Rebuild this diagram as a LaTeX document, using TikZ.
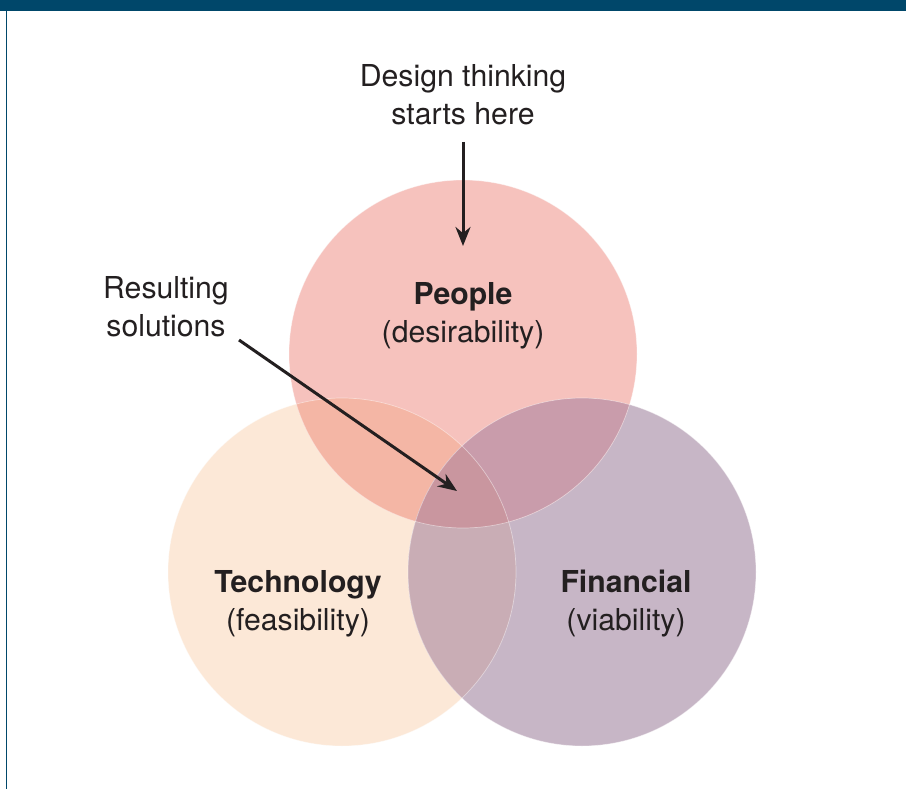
\documentclass[tikz,border=0pt]{standalone}
\usepackage{fontspec}
\setmainfont{TeX Gyre Heros}
\usetikzlibrary{arrows.meta}
\definecolor{barblue}{HTML}{00476A}
\definecolor{inkdark}{HTML}{231F20}
\definecolor{peoplec}{HTML}{F6C2BD}
\definecolor{techc}{HTML}{FCE8D7}
\definecolor{finc}{HTML}{C7B6C6}
\definecolor{ptc}{HTML}{F4B6A5}
\definecolor{pfc}{HTML}{C99CAB}
\definecolor{tfc}{HTML}{C9ADB5}
\definecolor{ptfc}{HTML}{C9969F}
\tikzset{
  lbl/.style={font=\fontsize{30.2}{38}\selectfont, text=inkdark, align=center, inner sep=0pt},
  pointer/.style={draw=inkdark, line width=3pt, -{Stealth[length=19pt,width=15pt]}},
  edge/.style={draw=white, draw opacity=0.45, line width=0.7pt}
}
\begin{document}
\begin{tikzpicture}[x=1pt, y=-1pt]
  \useasboundingbox (0,0) rectangle (906,789);
  \fill[white] (0,0) rectangle (906,789);
  % header bar and left rule
  \fill[barblue] (0,0) rectangle (906,11);
  \fill[barblue] (5.5,11) rectangle (7.2,789);

  % circle centres
  \coordinate (cp) at (463,354);
  \coordinate (ct) at (342,572);
  \coordinate (cf) at (582,572);
  \def\rad{174}

  % single regions
  \fill[techc] (ct) circle (\rad);
  \fill[finc] (cf) circle (\rad);
  \fill[peoplec] (cp) circle (\rad);
  % pairwise overlaps
  \begin{scope}
    \clip (cp) circle (\rad);
    \fill[ptc] (ct) circle (\rad);
    \fill[pfc] (cf) circle (\rad);
  \end{scope}
  \begin{scope}
    \clip (ct) circle (\rad);
    \fill[tfc] (cf) circle (\rad);
  \end{scope}
  % triple overlap
  \begin{scope}
    \clip (cp) circle (\rad);
    \clip (ct) circle (\rad);
    \fill[ptfc] (cf) circle (\rad);
  \end{scope}
  % faint light edges inside the overlaps
  \draw[edge] (cp) circle (\rad);
  \draw[edge] (ct) circle (\rad);
  \draw[edge] (cf) circle (\rad);

  % labels
  \node[lbl] (start) at (463,95) {Design thinking\\starts here};
  \node[lbl] (result) at (166,307) {Resulting\\solutions};
  \node[lbl] (people) at (463,316) {\textbf{People}\\(desirability)};
  \node[lbl] (tech) at (298,604) {\textbf{Technology}\\(feasibility)};
  \node[lbl] (fin) at (626,604) {\textbf{Financial}\\(viability)};

  % pointers
  \coordinate (starttip) at (463,246);
  \coordinate (resulttip) at (457,491);
  \draw[pointer] (start.south |- 0,142) -- (starttip);
  \draw[pointer] (239,340) -- (resulttip);
\end{tikzpicture}
\end{document}
